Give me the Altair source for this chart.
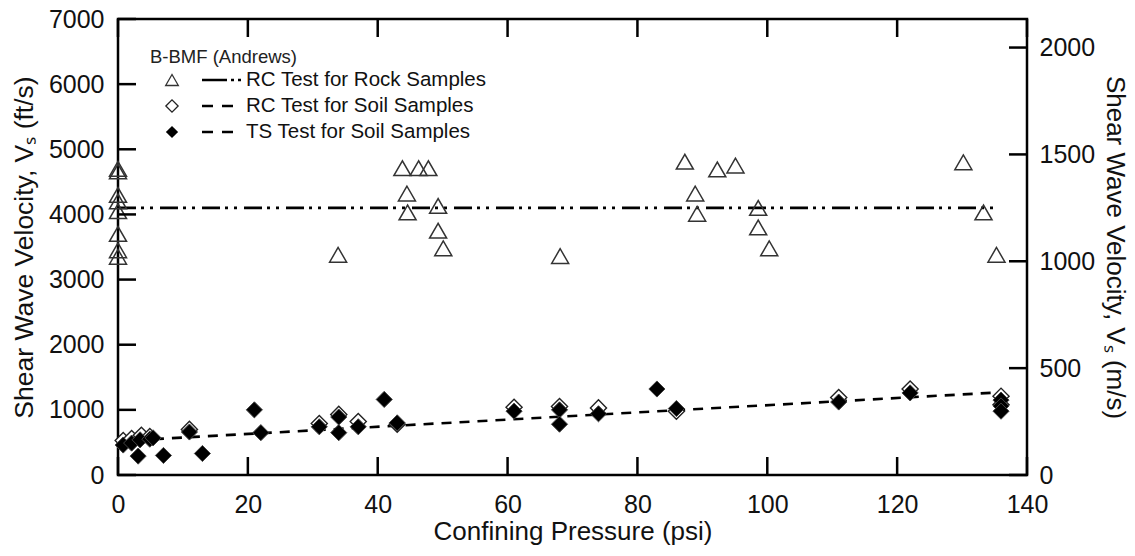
import altair as alt
import pandas as pd

# ---------------- data ----------------
rock_p = [0, 0, 0, 0, 0, 0, 0, 0, 33.9, 43.8, 46.3, 47.8, 44.5, 44.6, 49.3, 49.3, 50.1,
          68.1, 87.3, 88.9, 89.2, 92.3, 95.1, 98.6, 98.6, 100.3, 130.2, 133.3, 135.3]
rock_vs = [4700, 4660, 4300, 4200, 4050, 3700, 3450, 3350, 3380, 4710, 4710, 4710, 4320, 4030, 4130, 3750, 3480,
           3360, 4810, 4320, 4010, 4690, 4750, 4100, 3800, 3480, 4800, 4030, 3380]

rc_soil_p = [0.8, 2.1, 3.6, 4.9, 11.0, 31.0, 34.0, 37.0, 43.0, 61.0, 68.0, 74.0, 86.0, 111.0, 122.0, 136.0, 136.0]
rc_soil_vs = [530, 560, 610, 590, 700, 790, 930, 820, 780, 1040, 1050, 1030, 980, 1190, 1320, 1210, 1080]

ts_soil_p = [0.8, 2.1, 3.1, 3.4, 4.9, 5.4, 7.0, 11.0, 13.0, 21.0, 22.0, 31.0, 34.0, 34.0, 37.0, 41.0, 43.0,
             61.0, 68.0, 68.0, 74.0, 83.0, 86.0, 111.0, 122.0, 136.0, 136.0, 136.0]
ts_soil_vs = [460, 490, 290, 540, 550, 570, 300, 660, 330, 1000, 650, 740, 890, 650, 740, 1160, 800,
              980, 1000, 780, 940, 1320, 1020, 1120, 1260, 1150, 1060, 980]

rock_fit_p = [0, 135]
rock_fit_vs = [4100, 4100]
soil_fit_p = [0, 136]
soil_fit_vs = [520, 1270]

x_ticks = [0, 20, 40, 60, 80, 100, 120, 140]
ft_ticks = [0, 1000, 2000, 3000, 4000, 5000, 6000, 7000]
ms_ticks = [0, 500, 1000, 1500, 2000]

legend_title = ["B-BMF (Andrews)"]
legend_labels = ["RC Test for Rock Samples", "RC Test for Soil Samples", "TS Test for Soil Samples"]

x_title = "Confining Pressure (psi)"
y_left_title = "Shear Wave Velocity, V\u209b (ft/s)"
y_right_title = "Shear Wave Velocity, V\u209b (m/s)"

# ---------------- layout / style ----------------
FONT = "Liberation Sans"
W, H = 909, 456
TICK = 18
FT_DOMAIN = [0, 7000]
MS_DOMAIN = [0, 7000 * 0.3048]

xs = alt.Scale(domain=[0, 140], nice=False, zero=False)
fts = alt.Scale(domain=FT_DOMAIN, nice=False, zero=False)
mss = alt.Scale(domain=MS_DOMAIN, nice=False, zero=False)

x_axis = alt.Axis(title=x_title, values=x_ticks, orient="bottom", labelPadding=17,
                  titlePadding=1, titleFontSize=26, format="d")


def X(field):
    return alt.X(f"{field}:Q", scale=xs, axis=x_axis)


def Yft(field):
    return alt.Y(f"{field}:Q", scale=fts, axis=None)


rock_df = pd.DataFrame({"p": rock_p, "vs": rock_vs})
rc_df = pd.DataFrame({"p": rc_soil_p, "vs": rc_soil_vs})
ts_df = pd.DataFrame({"p": ts_soil_p, "vs": ts_soil_vs})
rock_fit_df = pd.DataFrame({"p": rock_fit_p, "vs": rock_fit_vs})
soil_fit_df = pd.DataFrame({"p": soil_fit_p, "vs": soil_fit_vs})

ROCK_DASH = [18, 5, 3, 6, 3, 7]
SOIL_DASH = [10, 8]

rock_line = alt.Chart(rock_fit_df).mark_line(color="black", strokeWidth=2.6, strokeDash=ROCK_DASH).encode(
    x=X("p"), y=Yft("vs"))
soil_line = alt.Chart(soil_fit_df).mark_line(color="black", strokeWidth=2.6, strokeDash=SOIL_DASH).encode(
    x=X("p"), y=Yft("vs"))

rc_pts = alt.Chart(rc_df).mark_point(shape="diamond", size=260, filled=True, fill="white",
                                     stroke="#222", strokeWidth=1.4, opacity=1).encode(
    x=X("p"), y=Yft("vs"))
ts_pts = alt.Chart(ts_df).mark_point(shape="diamond", size=260, filled=True, fill="black",
                                     stroke="#444", strokeWidth=1, opacity=1).encode(
    x=X("p"), y=Yft("vs"))
rock_pts = alt.Chart(rock_df).mark_point(shape="triangle-up", size=290, filled=False,
                                         stroke="#333", strokeWidth=1.5, opacity=1).encode(
    x=X("p"), y=Yft("vs"))

# ---------------- axes with inward ticks ----------------
xt_df = pd.DataFrame({"v": x_ticks})
ft_df = pd.DataFrame({"v": ft_ticks})
ms_df = pd.DataFrame({"v": ms_ticks})

bottom_ticks = alt.Chart(xt_df).mark_rule(color="black", strokeWidth=2.5).encode(
    x=X("v"), y=alt.value(H - TICK), y2=alt.value(H))
top_ticks = alt.Chart(xt_df).mark_rule(color="black", strokeWidth=2.5).encode(
    x=X("v"), y=alt.value(0), y2=alt.value(TICK))

left_axis = alt.Chart(ft_df).mark_rule(color="black", strokeWidth=2.5).encode(
    y=alt.Y("v:Q", scale=fts,
            axis=alt.Axis(orient="left", values=ft_ticks, title=y_left_title, labelPadding=14,
                          titlePadding=10, titleFontSize=26.5, format="d")),
    x=alt.value(0), x2=alt.value(TICK))

right_axis = alt.Chart(ms_df).mark_rule(color="black", strokeWidth=2.5).encode(
    y=alt.Y("v:Q", scale=mss,
            axis=alt.Axis(orient="right", values=ms_ticks, title=y_right_title, labelPadding=12,
                          titlePadding=7, titleFontSize=26, format="d")),
    x=alt.value(W - TICK), x2=alt.value(W))

# ---------------- legend (drawn manually) ----------------
one = pd.DataFrame({"a": [0]})
leg_layers = []
leg_layers.append(alt.Chart(pd.DataFrame({"t": legend_title})).mark_text(
    align="left", baseline="alphabetic", fontSize=18.5, font=FONT, color="#222").encode(
    text="t:N", x=alt.value(32), y=alt.value(44)))
row_y = [61, 87, 113]
for i, lab in enumerate(legend_labels):
    leg_layers.append(alt.Chart(pd.DataFrame({"t": [lab]})).mark_text(
        align="left", baseline="middle", fontSize=20.5, font=FONT, color="#111").encode(
        text="t:N", x=alt.value(128), y=alt.value(row_y[i])))
leg_layers.append(alt.Chart(one).mark_point(shape="triangle-up", size=160, filled=False,
                                            stroke="#333", strokeWidth=1.3, opacity=1).encode(
    x=alt.value(54), y=alt.value(row_y[0])))
leg_layers.append(alt.Chart(one).mark_point(shape="diamond", size=150, filled=True, fill="white",
                                            stroke="#222", strokeWidth=1.3, opacity=1).encode(
    x=alt.value(54), y=alt.value(row_y[1])))
leg_layers.append(alt.Chart(one).mark_point(shape="diamond", size=150, filled=True, fill="black",
                                            opacity=1).encode(
    x=alt.value(54), y=alt.value(row_y[2])))
leg_layers.append(alt.Chart(one).mark_rule(color="black", strokeWidth=2.6,
                                           strokeDash=[25, 4, 3, 4, 3, 20]).encode(
    x=alt.value(84), x2=alt.value(124), y=alt.value(row_y[0])))
for i in (1, 2):
    leg_layers.append(alt.Chart(one).mark_rule(color="black", strokeWidth=2.6,
                                               strokeDash=[11, 9]).encode(
        x=alt.value(84), x2=alt.value(116), y=alt.value(row_y[i])))

chart = alt.layer(
    rock_line, soil_line, rc_pts, ts_pts, rock_pts,
    bottom_ticks, top_ticks, left_axis, right_axis, *leg_layers
).resolve_scale(y="independent").properties(
    width=W, height=H,
    background="white",
    autosize=alt.AutoSizeParams(type="none"),
    padding={"left": 118, "top": 19, "right": 108, "bottom": 81},
).configure_view(stroke="black", strokeWidth=2.5).configure_axis(
    labelFont=FONT, titleFont=FONT, labelFontSize=25, titleFontSize=26,
    titleFontWeight="normal", labelColor="#111", titleColor="#111",
    domain=False, ticks=False, grid=False, labelOverlap=False, labelFlush=False,
)

chart.save("out.html", embed_options={"renderer": "svg", "actions": False})
